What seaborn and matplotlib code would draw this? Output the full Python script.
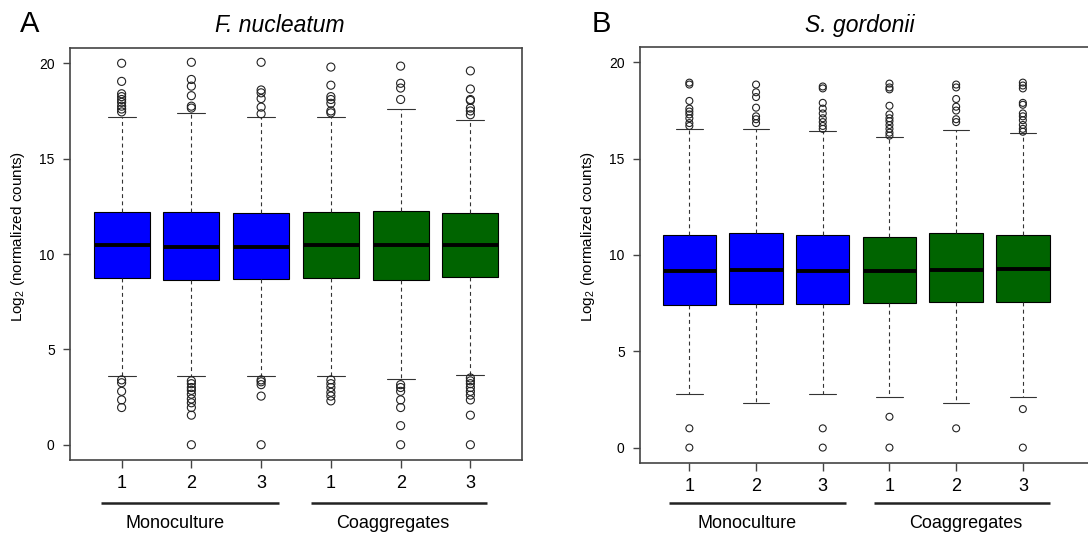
#!/usr/bin/env python3

import matplotlib
matplotlib.use("Agg")
import matplotlib.pyplot as plt
import matplotlib.transforms as mtransforms
import numpy as np
import pandas as pd
import seaborn as sns

W, H = 1088, 545

SAMPLES = ["mono_1", "mono_2", "mono_3", "coag_1", "coag_2", "coag_3"]
TICK_LABELS = ["1", "2", "3", "1", "2", "3"]
GROUP_NAMES = ["Monoculture", "Coaggregates"]
GROUP_MEMBERS = [(0, 2), (3, 5)]

# panel A, F. nucleatum
FN_Q1 = [8.72, 8.63, 8.67, 8.72, 8.63, 8.77]
FN_MEDIAN = [10.46, 10.39, 10.39, 10.46, 10.46, 10.46]
FN_Q3 = [12.19, 12.19, 12.14, 12.19, 12.26, 12.14]
FN_WHISK_LO = [3.58, 3.58, 3.58, 3.58, 3.46, 3.68]
FN_WHISK_HI = [17.17, 17.40, 17.17, 17.17, 17.61, 17.05]
FN_OUTLIERS = [
    [20.0, 19.05, 18.4, 18.25, 18.1, 17.95, 17.75, 17.6, 17.45,
     3.4, 3.25, 2.8, 2.35, 1.95],
    [20.05, 19.15, 18.8, 18.3, 17.75, 17.65,
     3.35, 3.2, 3.0, 2.85, 2.65, 2.4, 2.2, 1.95, 1.55, 0.0],
    [20.05, 18.6, 18.45, 18.15, 17.7, 17.35,
     3.4, 3.3, 3.15, 2.55, 0.0],
    [19.8, 18.85, 18.25, 18.1, 17.9, 17.5, 17.4,
     3.4, 3.2, 3.0, 2.75, 2.55, 2.3],
    [19.85, 18.95, 18.7, 18.1,
     3.15, 3.0, 2.8, 2.35, 1.95, 1.0, 0.0],
    [19.6, 18.65, 18.1, 18.05, 17.65, 17.5, 17.3,
     3.5, 3.35, 3.2, 3.0, 2.8, 2.6, 2.35, 1.55, 0.0],
]

# panel B, S. gordonii
SG_Q1 = [7.38, 7.45, 7.45, 7.51, 7.55, 7.55]
SG_MEDIAN = [9.18, 9.23, 9.18, 9.16, 9.23, 9.28]
SG_Q3 = [11.05, 11.13, 11.05, 10.94, 11.13, 11.05]
SG_WHISK_LO = [2.80, 2.34, 2.80, 2.61, 2.34, 2.61]
SG_WHISK_HI = [16.54, 16.55, 16.45, 16.14, 16.50, 16.31]
SG_OUTLIERS = [
    [18.95, 18.85, 18.0, 17.6, 17.45, 17.3, 17.1, 16.85, 16.7, 1.0, 0.0],
    [18.85, 18.45, 18.2, 17.65, 17.2, 17.05, 16.85],
    [18.75, 18.65, 17.9, 17.6, 17.35, 17.1, 16.9, 16.7, 16.55, 1.0, 0.0],
    [18.9, 18.7, 18.6, 17.75, 17.3, 17.1, 16.95, 16.75, 16.55, 16.35, 16.2,
     1.6, 0.0],
    [18.85, 18.7, 18.1, 17.7, 17.5, 17.05, 16.9, 1.0],
    [18.95, 18.8, 18.65, 17.9, 17.8, 17.35, 17.2, 17.0, 16.75, 16.55, 16.4,
     2.0, 0.0],
]

COLORS = ["#0000FF"] * 3 + ["#006400"] * 3
FONT = ["Liberation Sans", "DejaVu Sans"]


def px_axes(left, top, right, bottom):
    # axes rectangle from pixel edges
    return [left / W, 1 - bottom / H, (right - left) / W, (bottom - top) / H]


def draw_panel(fig, ax, q1, med, q3, lo, hi, outliers, xlim,
               marker_size, line_span, label_shift, ylabel_x):
    # 7 values per sample give exactly these quartiles, whiskers at min/max
    rows = []
    for s, l, a, m, b, h in zip(SAMPLES, lo, q1, med, q3, hi):
        for v in (l, a, a, m, b, b, h):
            rows.append((s, v))
    box_df = pd.DataFrame(rows, columns=["sample", "value"])

    sns.boxplot(
        data=box_df, x="sample", y="value", hue="sample",
        order=SAMPLES, hue_order=SAMPLES, palette=COLORS, saturation=1,
        width=0.8, whis=(0, 100), showfliers=False, legend=False,
        linecolor="black", linewidth=0.8, ax=ax,
        medianprops={"linewidth": 2.8, "color": "black"},
        whiskerprops={"linestyle": (0, (3.5, 3)), "color": "#333333"},
        capprops={"color": "#333333"},
    )

    out_df = pd.DataFrame(
        [(s, v) for s, vals in zip(SAMPLES, outliers) for v in vals],
        columns=["sample", "value"],
    )
    n_before = len(ax.collections)
    sns.stripplot(
        data=out_df, x="sample", y="value", order=SAMPLES, jitter=False,
        color="white", edgecolor="#222222", linewidth=0.8, size=marker_size,
        ax=ax, zorder=3,
    )
    for coll in ax.collections[n_before:]:
        coll.set_facecolor("none")

    ax.set_xlim(*xlim)
    ax.set_ylim(-0.8, 20.8)
    ax.set_yticks([0, 5, 10, 15, 20])
    ax.set_xticks(range(len(SAMPLES)))
    ax.set_xticklabels(TICK_LABELS)
    ax.set_xlabel("")
    ax.set_ylabel("Log$_2$ (normalized counts)", fontsize=11, family=FONT)
    ax.yaxis.set_label_coords(
        ylabel_x / W, 1 - 236 / H,
        transform=mtransforms.blended_transform_factory(fig.transFigure, fig.transFigure),
    )

    for spine in ax.spines.values():
        spine.set_visible(True)
        spine.set_color("#444444")
        spine.set_linewidth(1.2)

    ax.tick_params(axis="y", direction="out", length=5, width=1, color="#444444",
                   labelcolor="black", labelsize=10, pad=6)
    ax.tick_params(axis="x", direction="out", length=5.5, width=1, color="#444444",
                   labelcolor="black", labelsize=13, pad=5)

    # group bars and names under the axis
    trans = mtransforms.blended_transform_factory(ax.transData, fig.transFigure)
    for name, (i0, i2), (a, b), shift in zip(GROUP_NAMES, GROUP_MEMBERS,
                                             line_span, label_shift):
        ax.plot([i0 + a, i2 + b], [1 - 503 / H] * 2, transform=trans,
                clip_on=False, color="#222222", lw=1.8, solid_capstyle="butt")
        ax.text((i0 + i2) / 2 + shift, 1 - 524 / H, name, transform=trans,
                ha="center", va="center", fontsize=13, family=FONT,
                color="black")


sns.set_style("ticks")
plt.rcParams["font.family"] = FONT
plt.rcParams["mathtext.default"] = "regular"
plt.rcParams["text.color"] = "black"
plt.rcParams["axes.labelcolor"] = "black"

fig = plt.figure(figsize=(W / 100, H / 100), dpi=100)
ax_a = fig.add_axes(px_axes(70, 48, 522, 460))
ax_b = fig.add_axes(px_axes(640, 47, 1100, 463))

draw_panel(fig, ax_a, FN_Q1, FN_MEDIAN, FN_Q3, FN_WHISK_LO, FN_WHISK_HI,
           FN_OUTLIERS, xlim=(-0.74, 5.74), marker_size=5.8,
           line_span=[(-0.29, 0.25), (-0.29, 0.24)],
           label_shift=[-0.23, -0.12], ylabel_x=27)
draw_panel(fig, ax_b, SG_Q1, SG_MEDIAN, SG_Q3, SG_WHISK_LO, SG_WHISK_HI,
           SG_OUTLIERS, xlim=(-0.74, -0.74 + 460 / 66.7), marker_size=5.0,
           line_span=[(-0.30, 0.35), (-0.23, 0.41)],
           label_shift=[-0.135, 0.14], ylabel_x=597)

fig.text(20 / W, 1 - 32 / H, "A", fontsize=21, va="baseline", ha="left")
fig.text(592 / W, 1 - 32 / H, "B", fontsize=21, va="baseline", ha="left")
fig.text(280 / W, 1 - 32 / H, "F. nucleatum", fontsize=16.5, style="italic",
         va="baseline", ha="center")
fig.text(860 / W, 1 - 32 / H, "S. gordonii", fontsize=16.5, style="italic",
         va="baseline", ha="center")

fig.savefig("out.png", dpi=100)
